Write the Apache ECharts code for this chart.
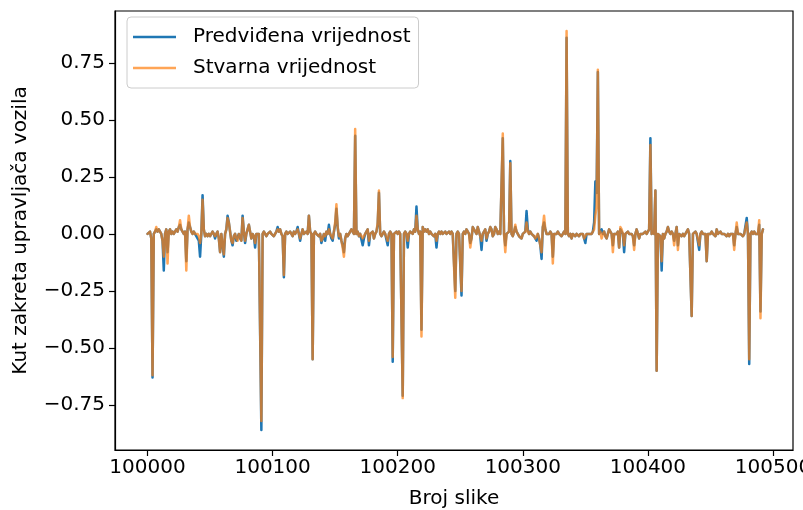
<!DOCTYPE html>
<html>
<head>
<meta charset="utf-8">
<script src="https://cdn.jsdelivr.net/npm/echarts@6/dist/echarts.min.js"></script>
<style>html,body{margin:0;padding:0;background:#fff}#c{width:803px;height:510px}</style>
</head>
<body>
<div id="c"></div>
<script>
const firstFrame = 100000;
const xTicks = [100000, 100100, 100200, 100300, 100400, 100500];
const yTicks = [-0.75, -0.5, -0.25, 0, 0.25, 0.5, 0.75];
const seriesNames = ['Predviđena vrijednost', 'Stvarna vrijednost'];

const predicted = [
0.00,0.00,0.01,-0.02,-0.63,0.00,0.01,0.02,0.01,0.02,
0.01,0.00,-0.03,-0.16,0.00,0.02,-0.08,0.01,0.02,0.00,
0.01,0.00,0.01,0.02,0.01,0.03,0.04,0.02,0.01,0.00,
0.01,-0.12,0.02,0.05,0.03,0.01,0.00,0.01,0.00,-0.01,
-0.01,-0.03,-0.10,0.00,0.17,0.02,-0.01,0.00,-0.01,0.00,
-0.01,0.00,0.01,0.00,-0.02,0.00,0.01,-0.02,-0.08,0.00,
0.00,-0.10,0.00,0.02,0.08,0.05,0.01,-0.03,-0.05,-0.01,
0.00,-0.03,-0.03,0.00,-0.02,-0.03,0.08,0.01,-0.04,0.00,
0.02,0.04,0.01,-0.02,0.00,-0.01,-0.06,0.00,0.00,0.00,
0.00,-0.86,0.00,0.01,0.00,-0.01,0.00,0.00,0.01,0.00,
0.00,-0.01,0.00,0.01,0.03,0.01,0.02,0.00,-0.01,-0.19,
0.00,0.01,0.00,0.00,0.01,0.00,-0.01,0.01,0.00,0.01,
0.03,0.00,-0.03,0.00,0.02,0.00,0.00,0.01,0.00,0.08,
0.01,0.00,-0.55,0.00,0.01,0.00,0.00,-0.01,0.00,-0.04,
-0.04,0.00,-0.03,0.01,0.00,0.04,0.00,-0.02,-0.03,0.01,
0.04,0.11,0.03,-0.02,0.00,-0.03,-0.05,-0.08,-0.02,0.00,
-0.01,0.00,0.01,0.02,0.01,0.00,0.43,0.00,0.01,-0.01,
0.00,0.00,-0.05,-0.02,0.00,0.01,0.02,-0.05,0.00,0.00,
0.01,-0.02,0.00,0.01,0.04,0.18,0.00,-0.01,0.00,0.01,
0.00,0.00,-0.05,0.00,0.01,0.00,-0.56,0.00,0.00,0.01,
0.00,0.01,0.00,0.00,-0.71,0.00,0.01,0.00,-0.06,0.00,
0.01,0.01,0.00,0.02,0.01,0.12,0.02,0.00,0.01,-0.42,
0.03,0.01,0.02,0.01,0.02,0.00,0.01,0.00,0.00,-0.01,
0.00,-0.06,0.00,0.01,0.00,0.01,0.00,0.00,0.01,0.00,
0.00,0.01,0.00,0.01,0.00,0.00,-0.25,0.00,0.01,0.00,
0.00,-0.27,0.00,0.01,0.00,0.02,0.01,0.00,-0.04,-0.02,
0.03,0.02,0.01,0.00,0.03,0.01,-0.01,-0.07,0.00,0.01,
0.02,-0.03,0.00,0.01,0.03,0.02,-0.01,0.00,0.03,0.02,
0.00,0.01,0.00,0.00,0.42,0.00,-0.05,0.00,0.00,0.01,
0.32,0.00,-0.01,0.01,0.03,0.01,0.00,-0.01,-0.01,-0.02,
0.00,0.00,0.01,0.10,0.02,0.00,0.01,0.00,0.00,-0.01,
-0.02,-0.03,0.00,-0.02,-0.05,-0.11,0.03,0.05,0.02,0.00,
0.00,0.00,0.01,0.00,-0.10,0.00,0.00,0.00,0.01,0.00,
0.00,-0.01,0.00,0.01,0.00,0.86,0.00,-0.01,0.00,-0.02,
0.00,0.00,-0.01,0.00,0.00,-0.01,0.00,0.00,0.00,-0.02,
-0.04,0.00,0.00,0.00,0.00,0.00,0.01,0.05,0.23,0.18,
0.71,0.00,0.01,0.02,0.00,0.01,-0.01,-0.02,0.00,0.02,
0.02,0.00,-0.05,0.00,0.00,0.00,0.01,-0.06,0.02,0.02,
0.00,-0.08,0.00,0.00,0.01,0.00,0.00,0.00,-0.01,-0.05,
0.00,0.02,0.00,-0.02,0.00,0.00,0.00,0.00,0.01,0.00,
0.00,0.02,0.42,0.00,0.01,0.00,0.19,-0.60,0.00,0.00,
-0.01,-0.16,0.00,-0.02,0.00,0.01,0.03,0.01,0.00,0.01,
0.00,-0.03,0.00,0.03,-0.05,0.00,0.00,-0.01,0.00,-0.01,
0.00,0.01,0.02,0.00,0.00,-0.36,0.00,0.00,0.01,0.00,
0.00,-0.07,0.00,0.01,0.00,0.00,0.00,-0.12,0.00,0.00,
0.00,0.01,0.00,0.00,-0.01,0.02,0.00,0.00,0.01,0.00,
0.00,0.00,0.00,-0.01,0.00,-0.01,0.00,0.00,0.00,-0.05,
0.00,0.03,0.00,0.00,0.00,0.00,-0.01,0.00,0.00,0.07,
0.00,-0.57,0.00,0.01,0.00,0.01,0.00,0.00,0.00,0.04,
-0.34,0.00,0.02
];

const actual = [
0.00,0.00,0.01,-0.02,-0.62,0.00,0.01,0.03,0.01,0.02,
0.01,0.00,-0.03,-0.10,0.00,0.02,-0.13,0.01,0.02,0.00,
0.01,0.00,0.01,0.02,0.01,0.03,0.06,0.02,0.01,0.00,
0.01,-0.16,0.02,0.08,0.03,0.01,0.00,0.01,0.00,0.00,
0.00,-0.01,-0.04,0.00,0.15,0.02,-0.01,0.00,-0.01,0.00,
-0.01,0.00,0.01,0.00,-0.01,0.00,0.01,-0.02,-0.08,0.00,
0.00,-0.09,0.00,0.02,0.07,0.05,0.01,-0.03,-0.04,-0.01,
0.00,-0.02,-0.03,0.00,-0.01,-0.03,0.07,0.01,-0.03,0.00,
0.02,0.04,0.01,-0.02,0.00,-0.01,-0.04,0.00,0.00,0.00,
0.00,-0.82,0.00,0.01,0.00,-0.01,0.00,0.00,0.01,0.00,
0.00,-0.01,0.00,0.01,0.02,0.01,0.02,0.00,-0.01,-0.18,
0.00,0.01,0.00,0.00,0.01,0.00,-0.01,0.01,0.00,0.01,
0.02,0.00,-0.02,0.00,0.02,0.00,0.00,0.01,0.00,0.08,
0.01,0.00,-0.55,0.00,0.01,0.00,0.00,-0.01,0.00,-0.03,
-0.02,0.00,-0.01,0.01,0.00,0.02,0.00,-0.01,-0.02,0.01,
0.05,0.13,0.03,-0.01,0.00,-0.03,-0.06,-0.10,-0.02,0.00,
-0.01,0.00,0.01,0.02,0.01,0.00,0.46,0.00,0.01,-0.01,
0.00,0.00,-0.02,-0.01,0.00,0.01,0.02,-0.03,0.00,0.00,
0.01,-0.02,0.00,0.01,0.05,0.19,0.00,-0.01,0.00,0.01,
0.00,0.00,-0.03,0.00,0.01,0.00,-0.54,0.00,0.00,0.01,
0.00,0.01,0.00,0.00,-0.72,0.00,0.01,0.00,-0.03,0.00,
0.01,0.01,0.00,0.02,0.01,0.08,0.02,0.00,0.01,-0.45,
0.03,0.01,0.02,0.01,0.02,0.00,0.01,0.00,0.00,-0.01,
0.00,-0.03,0.00,0.01,0.00,0.01,0.00,0.00,0.01,0.00,
0.00,0.01,0.00,0.01,0.00,0.00,-0.28,0.00,0.01,0.00,
0.00,-0.25,0.00,0.01,0.00,0.02,0.01,0.00,-0.06,-0.02,
0.03,0.02,0.01,0.00,0.03,0.01,-0.01,-0.03,0.00,0.01,
0.02,-0.02,0.00,0.01,0.03,0.02,-0.01,0.00,0.03,0.02,
0.00,0.01,0.00,0.00,0.44,0.00,-0.08,0.00,0.00,0.01,
0.31,0.00,-0.01,0.01,0.04,0.01,0.00,-0.01,-0.01,-0.02,
0.00,0.00,0.01,0.05,0.01,0.00,0.01,0.00,0.00,-0.01,
-0.02,-0.01,0.00,-0.02,-0.05,-0.08,0.03,0.08,0.02,0.00,
0.00,0.00,0.01,0.00,-0.13,0.00,0.00,0.00,0.01,0.00,
0.00,-0.01,0.00,0.01,0.00,0.89,0.00,-0.01,0.00,-0.02,
0.00,0.00,-0.01,0.00,0.00,-0.01,0.00,0.00,0.00,-0.02,
-0.01,0.00,0.00,0.00,0.00,0.00,0.01,0.02,0.08,0.12,
0.72,0.00,0.01,-0.02,0.00,0.01,-0.01,-0.02,0.00,0.02,
0.02,0.00,-0.08,0.00,0.00,0.00,0.01,-0.06,0.03,0.02,
0.00,-0.05,0.00,0.00,0.01,0.00,0.00,0.00,-0.01,-0.07,
0.00,0.02,0.00,-0.02,0.00,0.00,0.00,0.00,0.01,0.00,
0.00,0.02,0.39,0.00,0.01,0.00,0.19,-0.60,0.00,0.00,
-0.01,-0.12,0.00,-0.02,0.00,0.01,0.03,0.01,0.00,0.01,
0.00,-0.05,0.00,0.03,-0.07,0.00,0.00,-0.01,0.00,-0.01,
0.00,0.01,0.02,0.00,0.00,-0.36,0.00,0.00,0.01,0.00,
0.00,-0.05,0.00,0.01,0.00,0.00,0.00,-0.12,0.00,0.00,
0.00,0.01,0.00,0.00,-0.01,0.02,0.00,0.00,0.01,0.00,
0.00,0.00,0.00,-0.01,0.00,-0.01,0.00,0.00,0.00,-0.07,
0.00,0.05,0.00,0.00,0.00,0.00,-0.01,0.00,0.00,0.05,
0.00,-0.55,0.00,0.01,0.00,0.01,0.00,0.00,0.00,0.06,
-0.37,0.00,0.02
];

const frames = actual.map((_, i) => firstFrame + i);
const toPairs = arr => arr.map((v, i) => [frames[i], v]);

const FONT = 'DejaVu Sans';
const FS = 20;
const chart = echarts.init(document.getElementById('c'), null, {renderer: 'canvas'});
chart.setOption({
  animation: false,
  backgroundColor: '#ffffff',
  textStyle: {fontFamily: FONT},
  grid: {left: 115, right: 10, top: 11, bottom: 60, show: true, borderColor: '#000', borderWidth: 1.2,
         backgroundColor: 'transparent', containLabel: false, outerBoundsMode: 'none'},
  legend: {
    show: true,
    left: 127, top: 17,
    orient: 'vertical',
    icon: 'rect',
    itemWidth: 43, itemHeight: 2.5,
    itemGap: 11,
    padding: [10, 8, 10, 6],
    backgroundColor: 'rgba(255,255,255,0.8)',
    borderColor: '#cccccc', borderWidth: 1, borderRadius: 4,
    textStyle: {fontFamily: FONT, fontSize: FS, color: '#000', padding: [0, 0, 0, 12]},
    data: seriesNames
  },
  xAxis: {
    type: 'value',
    min: firstFrame - 26, max: firstFrame + 516,
    name: 'Broj slike', nameLocation: 'middle', nameGap: 39,
    nameTextStyle: {fontFamily: FONT, fontSize: FS, color: '#000'},
    axisLine: {show: true, onZero: false, lineStyle: {color: '#000', width: 1.2}},
    axisTick: {show: true, length: 6, lineStyle: {color: '#000', width: 1.2}, customValues: xTicks},
    axisLabel: {fontFamily: FONT, fontSize: FS, color: '#000', margin: 8, customValues: xTicks, formatter: v => String(v)},
    splitLine: {show: false}
  },
  yAxis: {
    type: 'value',
    min: -0.9475, max: 0.9775,
    name: 'Kut zakreta upravljača vozila', nameLocation: 'middle', nameGap: 84, nameRotate: 90,
    nameTextStyle: {fontFamily: FONT, fontSize: FS, color: '#000'},
    axisLine: {show: true, onZero: false, lineStyle: {color: '#000', width: 1.2}},
    axisTick: {show: true, length: 6, lineStyle: {color: '#000', width: 1.2}, customValues: yTicks},
    axisLabel: {fontFamily: FONT, fontSize: FS, color: '#000', margin: 10, customValues: yTicks,
      formatter: v => { const s = Math.abs(v).toFixed(2); return v < -1e-9 ? '\u2212' + s : s; }},
    splitLine: {show: false}
  },
  series: [
    {name: seriesNames[0], type: 'line', data: toPairs(predicted), symbol: 'none', showSymbol: false,
     color: '#1f77b4', lineStyle: {color: '#1f77b4', width: 2.5, join: 'round', cap: 'round'}, z: 2},
    {name: seriesNames[1], type: 'line', data: toPairs(actual), symbol: 'none', showSymbol: false,
     color: 'rgba(255,127,14,0.7)', lineStyle: {color: 'rgba(255,127,14,0.7)', width: 2.5, join: 'round', cap: 'round'}, z: 3}
  ]
});
</script>
</body>
</html>
